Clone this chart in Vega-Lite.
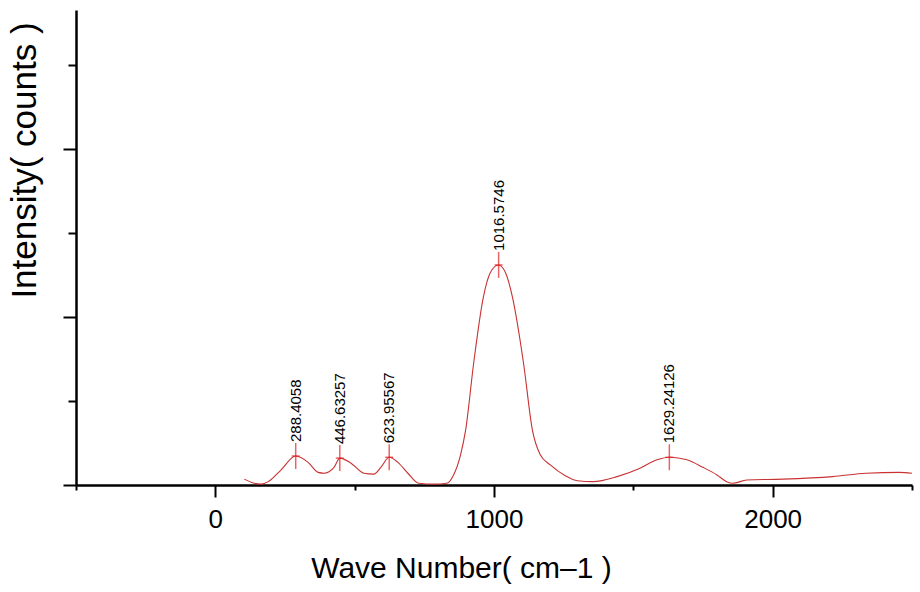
{
  "$schema": "https://vega.github.io/schema/vega-lite/v6.json",
  "width": 836,
  "height": 475,
  "autosize": "none",
  "padding": {"left": 76, "top": 10, "right": 8, "bottom": 107},
  "background": "white",
  "config": {"view": {"stroke": null}, "font": "Liberation Sans"},
  "datasets": {
    "spectrum": [
      {"wavenumber": 104, "intensity": 0.07},
      {"wavenumber": 140, "intensity": 0.02},
      {"wavenumber": 165, "intensity": 0.01},
      {"wavenumber": 190, "intensity": 0.04},
      {"wavenumber": 236, "intensity": 0.18},
      {"wavenumber": 288, "intensity": 0.345},
      {"wavenumber": 333, "intensity": 0.27},
      {"wavenumber": 369, "intensity": 0.15},
      {"wavenumber": 390, "intensity": 0.14},
      {"wavenumber": 426, "intensity": 0.21},
      {"wavenumber": 447, "intensity": 0.32},
      {"wavenumber": 487, "intensity": 0.26},
      {"wavenumber": 533, "intensity": 0.14},
      {"wavenumber": 569, "intensity": 0.13},
      {"wavenumber": 594, "intensity": 0.21},
      {"wavenumber": 624, "intensity": 0.33},
      {"wavenumber": 655, "intensity": 0.27},
      {"wavenumber": 691, "intensity": 0.14},
      {"wavenumber": 730, "intensity": 0.02},
      {"wavenumber": 784, "intensity": 0.01},
      {"wavenumber": 830, "intensity": 0.02},
      {"wavenumber": 855, "intensity": 0.12},
      {"wavenumber": 880, "intensity": 0.36},
      {"wavenumber": 898, "intensity": 0.65},
      {"wavenumber": 927, "intensity": 1.45},
      {"wavenumber": 962, "intensity": 2.24},
      {"wavenumber": 987, "intensity": 2.53},
      {"wavenumber": 1016, "intensity": 2.62},
      {"wavenumber": 1041, "intensity": 2.53},
      {"wavenumber": 1066, "intensity": 2.24},
      {"wavenumber": 1106, "intensity": 1.45},
      {"wavenumber": 1138, "intensity": 0.65},
      {"wavenumber": 1166, "intensity": 0.36},
      {"wavenumber": 1202, "intensity": 0.24},
      {"wavenumber": 1256, "intensity": 0.11},
      {"wavenumber": 1299, "intensity": 0.05},
      {"wavenumber": 1356, "intensity": 0.04},
      {"wavenumber": 1442, "intensity": 0.10},
      {"wavenumber": 1524, "intensity": 0.20},
      {"wavenumber": 1585, "intensity": 0.30},
      {"wavenumber": 1631, "intensity": 0.33},
      {"wavenumber": 1692, "intensity": 0.30},
      {"wavenumber": 1750, "intensity": 0.21},
      {"wavenumber": 1800, "intensity": 0.12},
      {"wavenumber": 1835, "intensity": 0.04},
      {"wavenumber": 1857, "intensity": 0.02},
      {"wavenumber": 1907, "intensity": 0.06},
      {"wavenumber": 2036, "intensity": 0.07},
      {"wavenumber": 2215, "intensity": 0.10},
      {"wavenumber": 2336, "intensity": 0.14},
      {"wavenumber": 2454, "intensity": 0.15},
      {"wavenumber": 2500, "intensity": 0.14}
    ],
    "peaks": [
      {"wavenumber": 288.4058, "intensity": 0.345, "label": "288.4058"},
      {"wavenumber": 446.63257, "intensity": 0.32, "label": "446.63257"},
      {"wavenumber": 623.95567, "intensity": 0.33, "label": "623.95567"},
      {"wavenumber": 1016.5746, "intensity": 2.62, "label": "1016.5746"},
      {"wavenumber": 1629.24126, "intensity": 0.33, "label": "1629.24126"}
    ]
  },
  "layer": [
    {
      "data": {"name": "spectrum"},
      "mark": {"type": "line", "color": "#c83232", "strokeWidth": 1.1, "interpolate": "monotone", "clip": true},
      "encoding": {
        "x": {
          "field": "wavenumber", "type": "quantitative",
          "scale": {"domain": [-500, 2500], "nice": false, "zero": false},
          "axis": {
            "values": [-500, 0, 500, 1000, 1500, 2000, 2500],
            "format": "d",
            "labelExpr": "datum.value % 1000 === 0 ? datum.label : ''",
            "tickSize": {"condition": {"test": "datum.value % 1000 === 0", "value": 12}, "value": 5},
            "tickColor": "black", "tickWidth": 2,
            "domainColor": "black", "domainWidth": 2.5,
            "labelFontSize": 26, "labelColor": "black", "labelFont": "Liberation Sans",
            "labelBaseline": "alphabetic", "labelPadding": 30, "labelFlush": false, "labelOverlap": false,
            "grid": false,
            "title": "Wave Number( cm–1 )", "titleFontSize": 30, "titleFontWeight": "normal",
            "titleColor": "black", "titleFont": "Liberation Sans",
            "titleX": 385, "titleY": 92, "titleBaseline": "alphabetic", "titleAlign": "center"
          }
        },
        "y": {
          "field": "intensity", "type": "quantitative",
          "scale": {"domain": [0, 5.655], "nice": false},
          "axis": {
            "values": [0, 1, 2, 3, 4, 5],
            "labels": false,
            "tickSize": {"condition": {"test": "datum.value % 2 === 0", "value": 13}, "value": 8},
            "tickColor": "black", "tickWidth": 2,
            "domainColor": "black", "domainWidth": 2.5,
            "grid": false,
            "title": "Intensity( counts )", "titleFontSize": 35, "titleFontWeight": "normal",
            "titleColor": "black", "titleFont": "Liberation Sans",
            "titleX": -41, "titleY": 150, "titleAngle": 270, "titleBaseline": "alphabetic", "titleAlign": "center"
          }
        }
      }
    },
    {
      "data": {"name": "peaks"},
      "mark": {"type": "tick", "orient": "vertical", "size": 26, "thickness": 1.5, "color": "#e02424"},
      "encoding": {
        "x": {"field": "wavenumber", "type": "quantitative"},
        "y": {"field": "intensity", "type": "quantitative"}
      }
    },
    {
      "data": {"name": "peaks"},
      "mark": {"type": "tick", "orient": "horizontal", "size": 8, "thickness": 1.5, "color": "#e02424"},
      "encoding": {
        "x": {"field": "wavenumber", "type": "quantitative"},
        "y": {"field": "intensity", "type": "quantitative"}
      }
    },
    {
      "data": {"name": "peaks"},
      "mark": {"type": "text", "angle": 270, "align": "left", "baseline": "middle", "dx": 14, "dy": 0, "fontSize": 15, "color": "black", "font": "Liberation Sans"},
      "encoding": {
        "x": {"field": "wavenumber", "type": "quantitative"},
        "y": {"field": "intensity", "type": "quantitative"},
        "text": {"field": "label", "type": "nominal"}
      }
    }
  ]
}
